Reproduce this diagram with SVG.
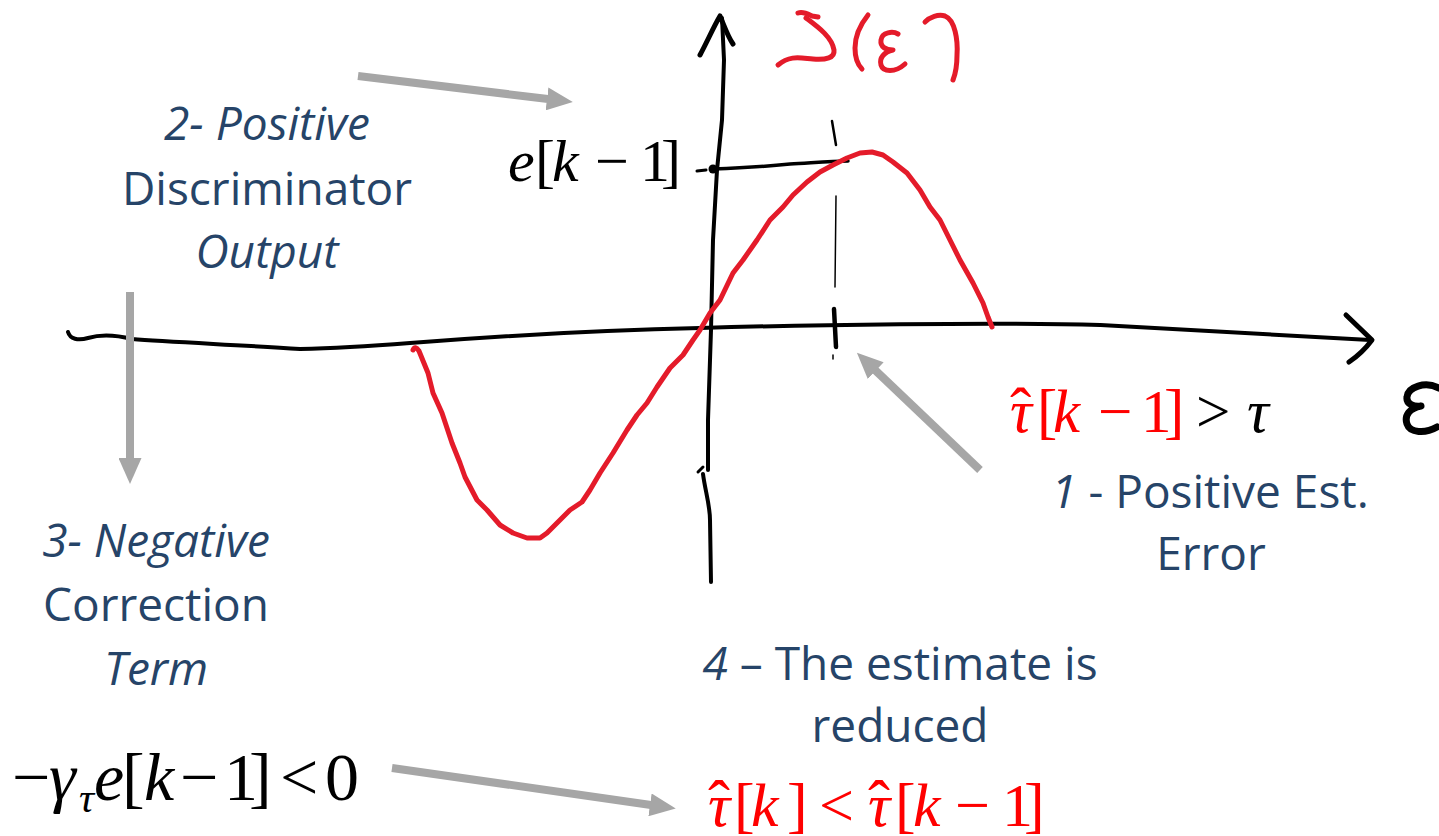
<svg xmlns="http://www.w3.org/2000/svg" width="1439" height="836" viewBox="0 0 1439 836">
<style>
.ink{fill:none;stroke:#000;stroke-linecap:round;stroke-linejoin:round}
.red{fill:none;stroke:#E41B2A;stroke-linecap:round;stroke-linejoin:round;stroke-width:5}
.lbl{font-family:"Open Sans","Noto Sans",sans-serif;font-size:46px;fill:#264468;text-anchor:middle}
.it{font-style:italic}
.math{font-family:"Liberation Serif","Times New Roman",serif}
.mr{fill:#FF0000}
.mb{fill:#000}
.arr{stroke:#A6A6A6;stroke-width:8;fill:none;marker-end:url(#head)}
</style>
<defs>
<marker id="head" markerUnits="userSpaceOnUse" markerWidth="27" markerHeight="23" refX="1" refY="11.5" orient="auto" viewBox="0 0 27 23">
<path d="M0,0 L26,11.5 L0,23 Z" fill="#A6A6A6"/>
</marker>
</defs>
<rect width="1439" height="836" fill="#fff"/>

<g id="axes">
<path class="ink" stroke-width="4" d="M68,332 C70,339 78,341 88,338 C98,335 112,334 132,339 C170,342 240,345 300,349 C340,348 370,346 410,343 C500,336 600,330 700,328 C800,325 1000,322 1100,325 C1200,330 1300,336 1370,340"/>
<path class="ink" stroke-width="5" d="M1346,315 L1372,340 C1366,348 1358,356 1349,362"/>
<path class="ink" stroke-width="4" d="M708,470 L708,420 L711,330 L713,240 L717,170 L722,120 L724,60 L722,18"/>
<path class="ink" stroke-width="5" d="M700,55 C707,42 714,26 720,16 C724,25 727,35 733,44"/>
<path class="ink" stroke-width="3" d="M698,472 L703,467"/>
<path class="ink" stroke-width="4" d="M703,474 C705,490 710,505 710,520 L711,582"/>
<path class="ink" stroke-width="7" d="M1439,388 C1425,381 1408,387 1407,397 C1406,404 1414,407 1421,406 C1410,408 1404,415 1407,424 C1410,433 1425,434 1437,427"/>
</g>

<g id="marker-lines">
<circle cx="713" cy="169" r="4.5" fill="#000"/>
<path class="ink" stroke-width="3" d="M697,171 L706,170"/>
<path class="ink" stroke-width="3.5" d="M713,169 C740,168 760,167 790,164 C810,163 830,161 848,161"/>
<path class="ink" stroke-width="2.5" d="M832,121 L836,145"/>
<path class="ink" stroke-width="1.5" d="M836,196 L835,287"/>
<path class="ink" stroke-width="4.5" d="M834,309 L836,347"/>
<path class="ink" stroke-width="1.5" d="M833,355 L833,359"/>
</g>

<g id="curve">
<path class="red" d="M413,350 Q415,345 419,351 L428,373 L433,393 L442,413 L452,443 L460,463 L465,477 L477,500 L487,510 L500,525 L513,533 L527,538 L540,538 L547,533 L557,523 L570,510 L582,502 L590,490 L600,473 L613,453 L627,430 L637,415 L647,403 L657,387 L670,368 L683,355 L693,340 L700,330 L710,313 L720,300 L733,273 L743,260 L757,240 L770,220 L783,207 L793,195 L807,182 L820,172 L833,165 L847,158 L860,153 L872,152 L883,155 L893,162 L907,173 L920,190 L930,207 L940,220 L950,240 L960,260 L973,283 L983,303 L988,317 L992,327"/>
<g id="curve-label">
<path class="red" d="M798,13 C803,11 808,14 812,16 L818,17"/>
<path class="red" d="M806,18 C818,27 832,37 834,50 C835,58 826,60 813,59 C800,58 790,55 778,65"/>
<path class="red" d="M868,15 C860,25 855,37 855,48 C855,58 858,65 862,69"/>
<path class="red" d="M898,34 C893,31 882,32 881,40 C880,47 886,50 893,50 C884,52 879,58 881,65 C883,72 895,73 905,64"/>
<path class="red" d="M925,22 C930,17 938,14 945,16 C955,20 958,40 957,55 C957,65 955,75 953,80"/>
</g>
</g>

<g id="connectors">
<line class="arr" x1="358" y1="76" x2="548" y2="99"/>
<line class="arr" x1="130" y1="292" x2="130" y2="459"/>
<line class="arr" x1="980" y1="470" x2="875" y2="370"/>
<line class="arr" x1="392" y1="768" x2="651" y2="805"/>
</g>

<g id="label-2">
<text class="lbl" y="140"><tspan x="267" class="it">2- Positive</tspan><tspan x="267" dy="65">Discriminator</tspan><tspan x="267" dy="63" class="it">Output</tspan></text>
</g>
<g id="label-3">
<text class="lbl" y="557"><tspan x="156" class="it">3- Negative</tspan><tspan x="156" dy="64">Correction</tspan><tspan x="156" dy="64" class="it">Term</tspan></text>
</g>
<g id="label-1">
<text class="lbl" y="508" x="1210"><tspan class="it">1</tspan> - Positive Est.</text>
<text class="lbl" y="570" x="1211">Error</text>
</g>
<g id="label-4">
<text class="lbl" y="680" x="900"><tspan class="it">4</tspan> – The estimate is</text>
<text class="lbl" y="742" x="900">reduced</text>
</g>

<g id="math-e">
<text class="math mb" font-size="60" y="181"><tspan x="508" font-style="italic">e</tspan><tspan x="535">[</tspan><tspan x="552" font-style="italic">k</tspan><tspan x="595">−</tspan><tspan x="640">1</tspan><tspan x="661">]</tspan></text>
</g>
<g id="math-tau-err">
<text class="math" font-size="61" y="432"><tspan x="1010" class="mr" font-style="italic">τ</tspan><tspan x="1010" class="mr" font-size="64">ˆ</tspan><tspan x="1037" class="mr">[</tspan><tspan x="1053" class="mr" font-style="italic">k</tspan><tspan x="1098" class="mr">−</tspan><tspan x="1141" class="mr">1</tspan><tspan x="1164" class="mr">]</tspan><tspan x="1196" class="mb">&gt;</tspan><tspan x="1247" class="mb" font-style="italic">τ</tspan></text>
</g>
<g id="math-correction">
<text class="math mb" font-size="68" y="800"><tspan x="12">−</tspan><tspan x="49" font-style="italic">γ</tspan><tspan x="79" dy="12" font-size="42" font-style="italic">τ</tspan><tspan x="94" dy="-12" font-style="italic">e</tspan><tspan x="122">[</tspan><tspan x="144" font-style="italic">k</tspan><tspan x="180">−</tspan><tspan x="224">1</tspan><tspan x="249">]</tspan><tspan x="280">&lt;</tspan><tspan x="325">0</tspan></text>
</g>
<g id="math-reduced">
<text class="math mr" font-size="62" y="826"><tspan x="708" font-style="italic">τ</tspan><tspan x="708" font-size="66">ˆ</tspan><tspan x="734">[</tspan><tspan x="751" font-style="italic">k</tspan><tspan x="787">]</tspan><tspan x="819">&lt;</tspan><tspan x="868" font-style="italic">τ</tspan><tspan x="868" font-size="66">ˆ</tspan><tspan x="895">[</tspan><tspan x="913" font-style="italic">k</tspan><tspan x="955">−</tspan><tspan x="1002">1</tspan><tspan x="1024">]</tspan></text>
</g>
</svg>
